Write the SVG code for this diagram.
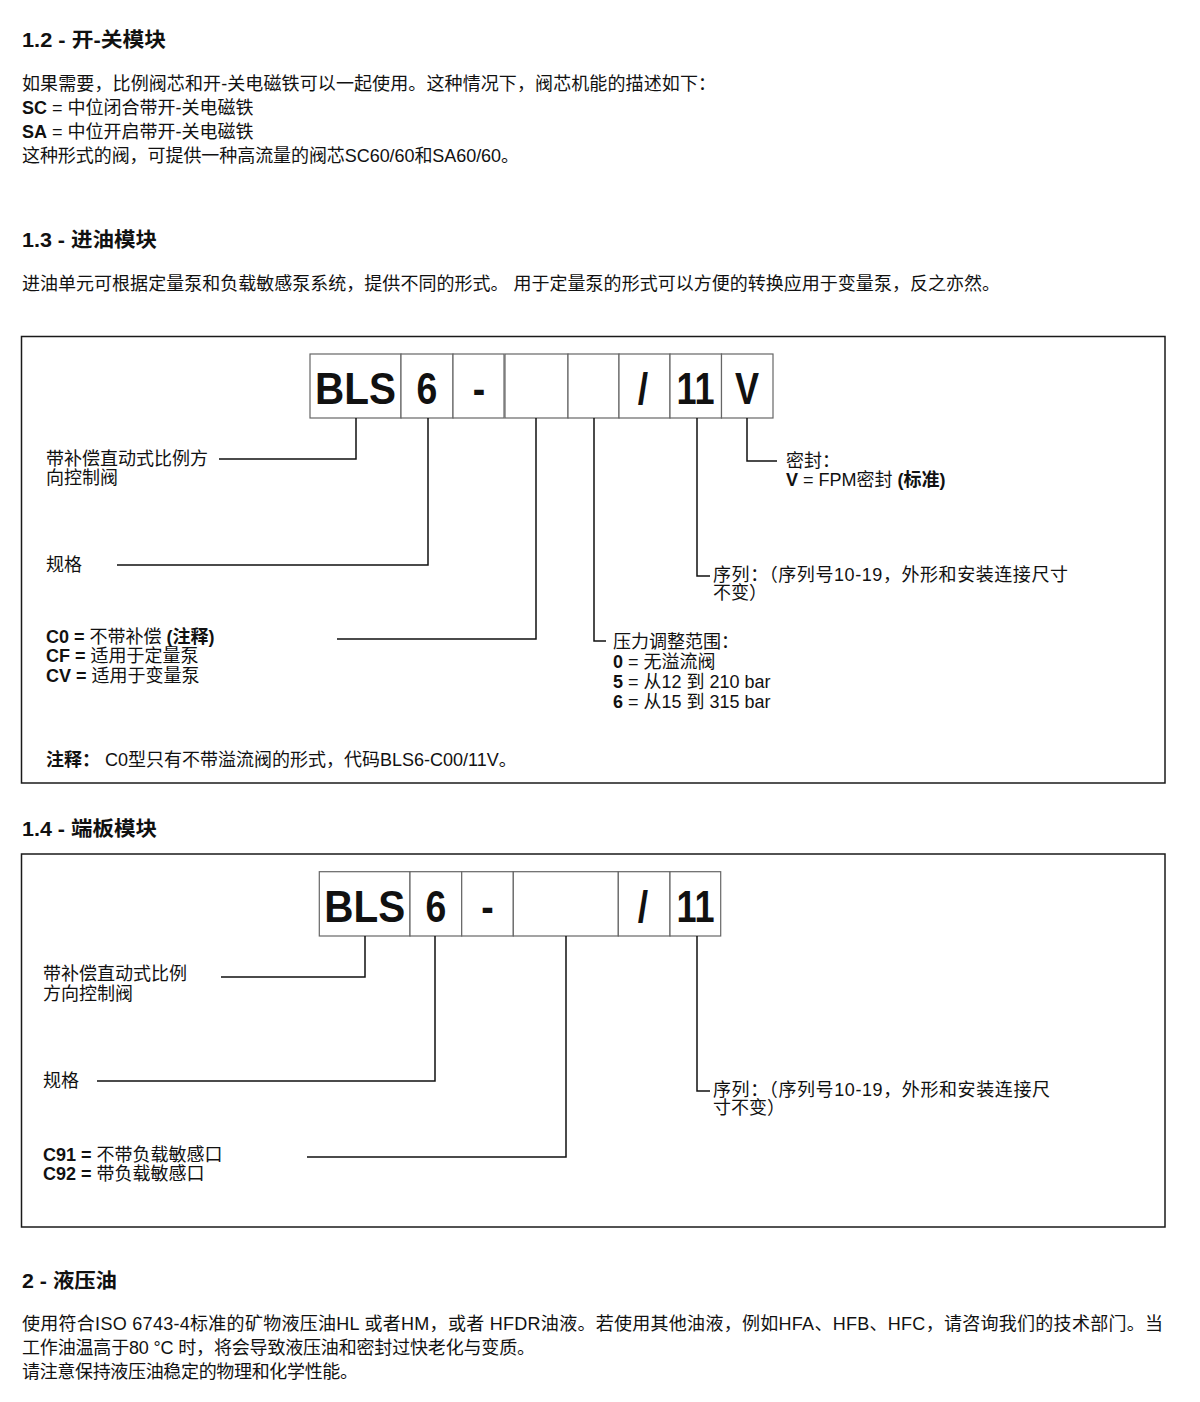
<svg xmlns="http://www.w3.org/2000/svg" width="1200" height="1402" viewBox="0 0 1200 1402">
<style>
text{font-family:"Liberation Sans","Noto Sans CJK SC",sans-serif;fill:#111;}
.t{font-size:18px;}
.h{font-size:20px;font-weight:bold;}
.b{font-weight:bold;}
.code{font-size:44px;font-weight:bold;text-anchor:middle;}
.frame{fill:none;stroke:#1a1a1a;stroke-width:1.5;}
.cell{fill:#fff;stroke:#666;stroke-width:1.2;}
.conn path{fill:none;stroke:#111;stroke-width:1.5;}
</style>
<rect width="1200" height="1402" fill="#fff"/>

<g id="sec12">
<text class="h" x="22" y="47" textLength="144" lengthAdjust="spacingAndGlyphs">1.2 - 开-关模块</text>
<text class="t" x="22" y="90" textLength="694">如果需要，比例阀芯和开-关电磁铁可以一起使用。这种情况下，阀芯机能的描述如下：</text>
<text class="t" x="22" y="114"><tspan class="b">SC</tspan> = 中位闭合带开-关电磁铁</text>
<text class="t" x="22" y="138"><tspan class="b">SA</tspan> = 中位开启带开-关电磁铁</text>
<text class="t" x="22" y="162" textLength="497">这种形式的阀，可提供一种高流量的阀芯SC60/60和SA60/60。</text>
</g>

<g id="sec13">
<text class="h" x="22" y="247" textLength="135" lengthAdjust="spacingAndGlyphs">1.3 - 进油模块</text>
<text class="t" x="22" y="290" textLength="978">进油单元可根据定量泵和负载敏感泵系统，提供不同的形式。 用于定量泵的形式可以方便的转换应用于变量泵，反之亦然。</text>
</g>

<g id="box13">
<rect class="frame" x="21.5" y="336.5" width="1143.5" height="446.5"/>
<g id="code13">
<rect class="cell" x="310" y="354" width="91" height="64"/>
<rect class="cell" x="401" y="354" width="52" height="64"/>
<rect class="cell" x="453" y="354" width="51" height="64"/>
<rect class="cell" x="505" y="354" width="63" height="64"/>
<rect class="cell" x="568" y="354" width="51" height="64"/>
<rect class="cell" x="619" y="354" width="51" height="64"/>
<rect class="cell" x="670" y="354" width="51.5" height="64"/>
<rect class="cell" x="721.5" y="354" width="51.5" height="64"/>
<text class="code" transform="translate(355.5,404) scale(0.92,1)">BLS</text>
<text class="code" transform="translate(427,404) scale(0.85,1)">6</text>
<text class="code" transform="translate(479,404) scale(0.85,1)">-</text>
<text class="code" transform="translate(643,404) scale(0.85,1)">/</text>
<text class="code" transform="translate(695.5,404) scale(0.82,1)">11</text>
<text class="code" transform="translate(747,404) scale(0.82,1)">V</text>
</g>
<g id="lbl13-type">
<text class="t" x="46" y="465">带补偿直动式比例方</text>
<text class="t" x="46" y="484">向控制阀</text>
</g>
<g id="lbl13-size">
<text class="t" x="46" y="571">规格</text>
</g>
<g id="lbl13-comp">
<text class="t" x="46" y="643"><tspan class="b">C0 =</tspan> 不带补偿 <tspan class="b">(注释)</tspan></text>
<text class="t" x="46" y="662"><tspan class="b">CF =</tspan> 适用于定量泵</text>
<text class="t" x="46" y="682"><tspan class="b">CV =</tspan> 适用于变量泵</text>
</g>
<g id="lbl13-press">
<text class="t" x="613" y="648">压力调整范围：</text>
<text class="t" x="613" y="668"><tspan class="b">0</tspan> = 无溢流阀</text>
<text class="t" x="613" y="688"><tspan class="b">5</tspan> = 从12 到 210 bar</text>
<text class="t" x="613" y="708"><tspan class="b">6</tspan> = 从15 到 315 bar</text>
</g>
<g id="lbl13-series">
<text class="t" x="713" y="581" textLength="355">序列：（序列号10-19，外形和安装连接尺寸</text>
<text class="t" x="713" y="599">不变）</text>
</g>
<g id="lbl13-seal">
<text class="t" x="786" y="467">密封：</text>
<text class="t" x="786" y="486"><tspan class="b">V</tspan> = FPM密封 <tspan class="b">(标准)</tspan></text>
</g>
<g id="note13">
<text class="t" x="46" y="766"><tspan class="b">注释：</tspan> C0型只有不带溢流阀的形式，代码BLS6-C00/11V。</text>
</g>
</g>

<g id="sec14">
<text class="h" x="22" y="836" textLength="135" lengthAdjust="spacingAndGlyphs">1.4 - 端板模块</text>
</g>

<g id="box14">
<rect class="frame" x="21.5" y="854" width="1143.5" height="373"/>
<g id="code14">
<rect class="cell" x="319.3" y="871.7" width="90.7" height="64.3"/>
<rect class="cell" x="410" y="871.7" width="51.7" height="64.3"/>
<rect class="cell" x="461.7" y="871.7" width="51.6" height="64.3"/>
<rect class="cell" x="513.3" y="871.7" width="105" height="64.3"/>
<rect class="cell" x="618.3" y="871.7" width="51.7" height="64.3"/>
<rect class="cell" x="670" y="871.7" width="50.7" height="64.3"/>
<text class="code" transform="translate(364.7,922) scale(0.92,1)">BLS</text>
<text class="code" transform="translate(436,922) scale(0.85,1)">6</text>
<text class="code" transform="translate(487.5,922) scale(0.85,1)">-</text>
<text class="code" transform="translate(643,922) scale(0.85,1)">/</text>
<text class="code" transform="translate(695.5,922) scale(0.82,1)">11</text>
</g>
<g id="lbl14-type">
<text class="t" x="43" y="980">带补偿直动式比例</text>
<text class="t" x="43" y="1000">方向控制阀</text>
</g>
<g id="lbl14-size">
<text class="t" x="43" y="1087">规格</text>
</g>
<g id="lbl14-ls">
<text class="t" x="43" y="1161"><tspan class="b">C91 =</tspan> 不带负载敏感口</text>
<text class="t" x="43" y="1180"><tspan class="b">C92 =</tspan> 带负载敏感口</text>
</g>
<g id="lbl14-series">
<text class="t" x="713" y="1096" textLength="337">序列：（序列号10-19，外形和安装连接尺</text>
<text class="t" x="713" y="1114">寸不变）</text>
</g>
</g>

<g id="connectors" class="conn">
<path d="M356 418V459H219"/>
<path d="M428 418V565H117"/>
<path d="M536 418V639H337"/>
<path d="M594 418V641H606"/>
<path d="M697 418V576H710"/>
<path d="M747 418V461H777"/>
<path d="M365 936V977H221"/>
<path d="M435 936V1081H97"/>
<path d="M566 936V1157H307"/>
<path d="M697 936V1091H710"/>
</g>

<g id="sec2">
<text class="h" x="22" y="1288" textLength="95" lengthAdjust="spacingAndGlyphs">2 - 液压油</text>
<text class="t" x="22" y="1330" textLength="1141">使用符合ISO 6743-4标准的矿物液压油HL 或者HM，或者 HFDR油液。若使用其他油液，例如HFA、HFB、HFC，请咨询我们的技术部门。当</text>
<text class="t" x="22" y="1354" textLength="513">工作油温高于80 °C 时，将会导致液压油和密封过快老化与变质。</text>
<text class="t" x="22" y="1378" textLength="336">请注意保持液压油稳定的物理和化学性能。</text>
</g>
</svg>
